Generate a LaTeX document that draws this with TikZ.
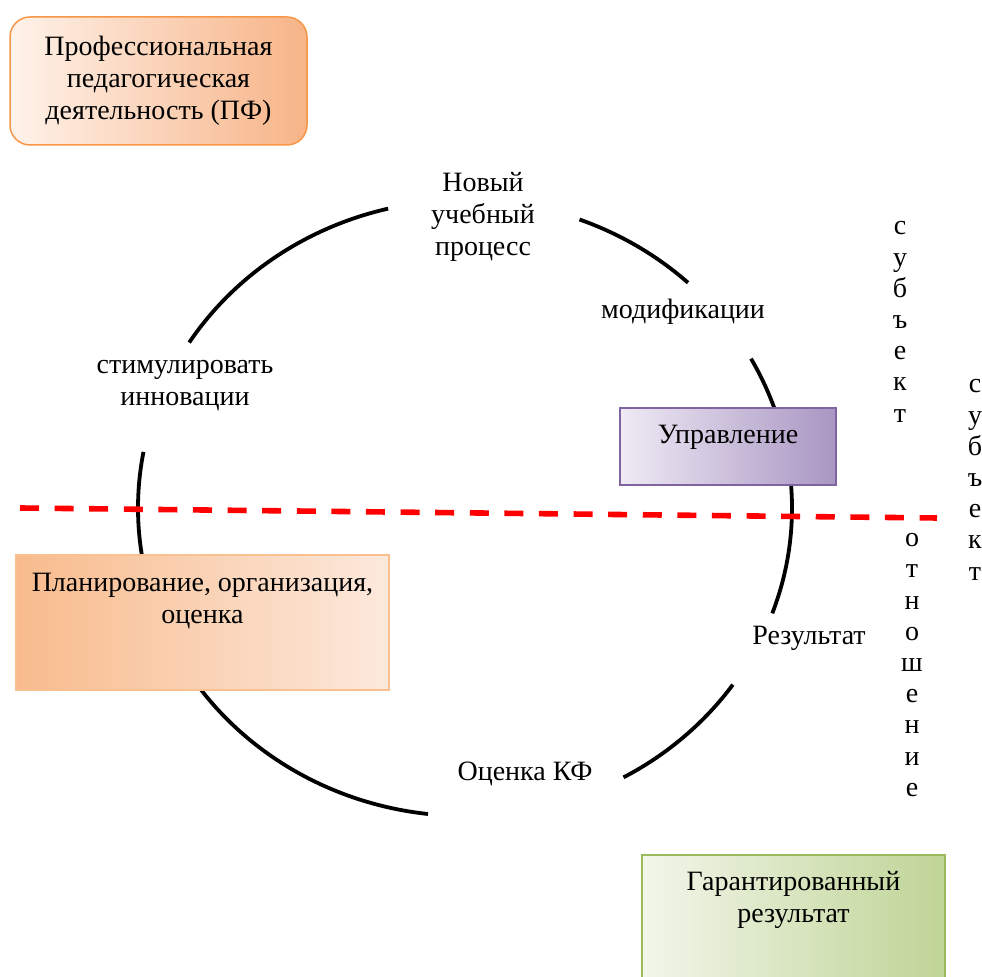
\documentclass[tikz,border=0pt]{standalone}
\usepackage{fontspec}
\setmainfont{Liberation Serif}
\usetikzlibrary{positioning}

\definecolor{pfborder}{HTML}{F79646}
\definecolor{pfleft}{HTML}{FEF2EA}
\definecolor{pfright}{HTML}{F7B487}
\definecolor{uprborder}{HTML}{8064A2}
\definecolor{uprleft}{HTML}{EFEAF4}
\definecolor{uprright}{HTML}{A996C3}
\definecolor{planborder}{HTML}{FAC090}
\definecolor{planleft}{HTML}{F8BB8C}
\definecolor{planright}{HTML}{FCE9DD}
\definecolor{garborder}{HTML}{9BBB59}
\definecolor{garleft}{HTML}{F2F6EA}
\definecolor{garright}{HTML}{BFD496}

\begin{document}
\begin{tikzpicture}[x=0.5pt,y=-0.5pt,
    font=\fontsize{14}{16}\selectfont,
    lbl/.style={align=center,inner sep=0pt},
    vtext/.style={align=center,inner sep=0pt,font=\fontsize{14}{15.6}\selectfont},
    box/.style={draw,line width=0.75pt,inner sep=0pt},
    cycleline/.style={line width=1.9pt},
    cutline/.style={draw=red,line width=2.8pt,dash pattern=on 9.5pt off 7.8pt}]
  \clip (0,0) rectangle (982,977);

  % cycle
  \coordinate (ctr) at (465,508);
  \begin{scope}
    \draw[cycleline] ([shift={(-103.6:327 and 308)}]ctr) arc[start angle=-103.6,end angle=-147.5,x radius=327,y radius=308];
    \draw[cycleline] ([shift={(-47:327 and 308)}]ctr) arc[start angle=-47,end angle=-69.5,x radius=327,y radius=308];
    \draw[cycleline] ([shift={(20:327 and 308)}]ctr) arc[start angle=20,end angle=-29,x radius=327,y radius=308];
    \draw[cycleline] ([shift={(61:327 and 308)}]ctr) arc[start angle=61,end angle=35,x radius=327,y radius=308];
    \draw[cycleline] ([shift={(-169.5:327 and 308)}]ctr) arc[start angle=-169.5,end angle=-263.5,x radius=327,y radius=308];
  \end{scope}

  % boxes
  \node[box,draw=pfborder,left color=pfleft,right color=pfright,rounded corners=10pt,
        minimum width=148.5pt,minimum height=64pt,align=center] (pf) at (158.5,81)
        {Профессиональная\\педагогическая\\деятельность (ПФ)};
  \node[box,draw=uprborder,left color=uprleft,right color=uprright,
        minimum width=108pt,minimum height=38.5pt] (upr) at (728,446.5) {};
  \node[lbl,below=9pt of upr.north] (uprtext) {Управление};
  \node[box,draw=planborder,left color=planleft,right color=planright,
        minimum width=186.5pt,minimum height=67.5pt] (plan) at (202.5,622.5) {};
  \node[lbl,below=9.5pt of plan.north] (plantext) {Планирование, организация,\\оценка};
  \node[box,draw=garborder,left color=garleft,right color=garright,
        minimum width=151.5pt,minimum height=70pt] (gar) at (793.5,925) {};
  \node[lbl,below=8.5pt of gar.north] (gartext) {Гарантированный\\результат};

  % labels on the cycle
  \node[lbl] (newproc) at (483,217) {Новый\\учебный\\процесс};
  \node[lbl] (modif) at (683,312) {модификации};
  \node[lbl] (stim) at (185,386) {стимулировать\\инновации};
  \node[lbl] (result) at (809,638) {Результат};
  \node[lbl] (otsenka) at (525,774) {Оценка КФ};

  % vertical words
  \node[vtext] (subj1) at (900,322) {с\\у\\б\\ъ\\е\\к\\т};
  \node[vtext] (subj2) at (975,480) {с\\у\\б\\ъ\\е\\к\\т};
  \node[vtext] (rel) at (912,665) {о\\т\\н\\о\\ш\\е\\н\\и\\е};

  % border line
  \coordinate (cutL) at (20,508);
  \coordinate (cutR) at (937,518);
  \draw[cutline] (cutL) -- (cutR);
\end{tikzpicture}
\end{document}
